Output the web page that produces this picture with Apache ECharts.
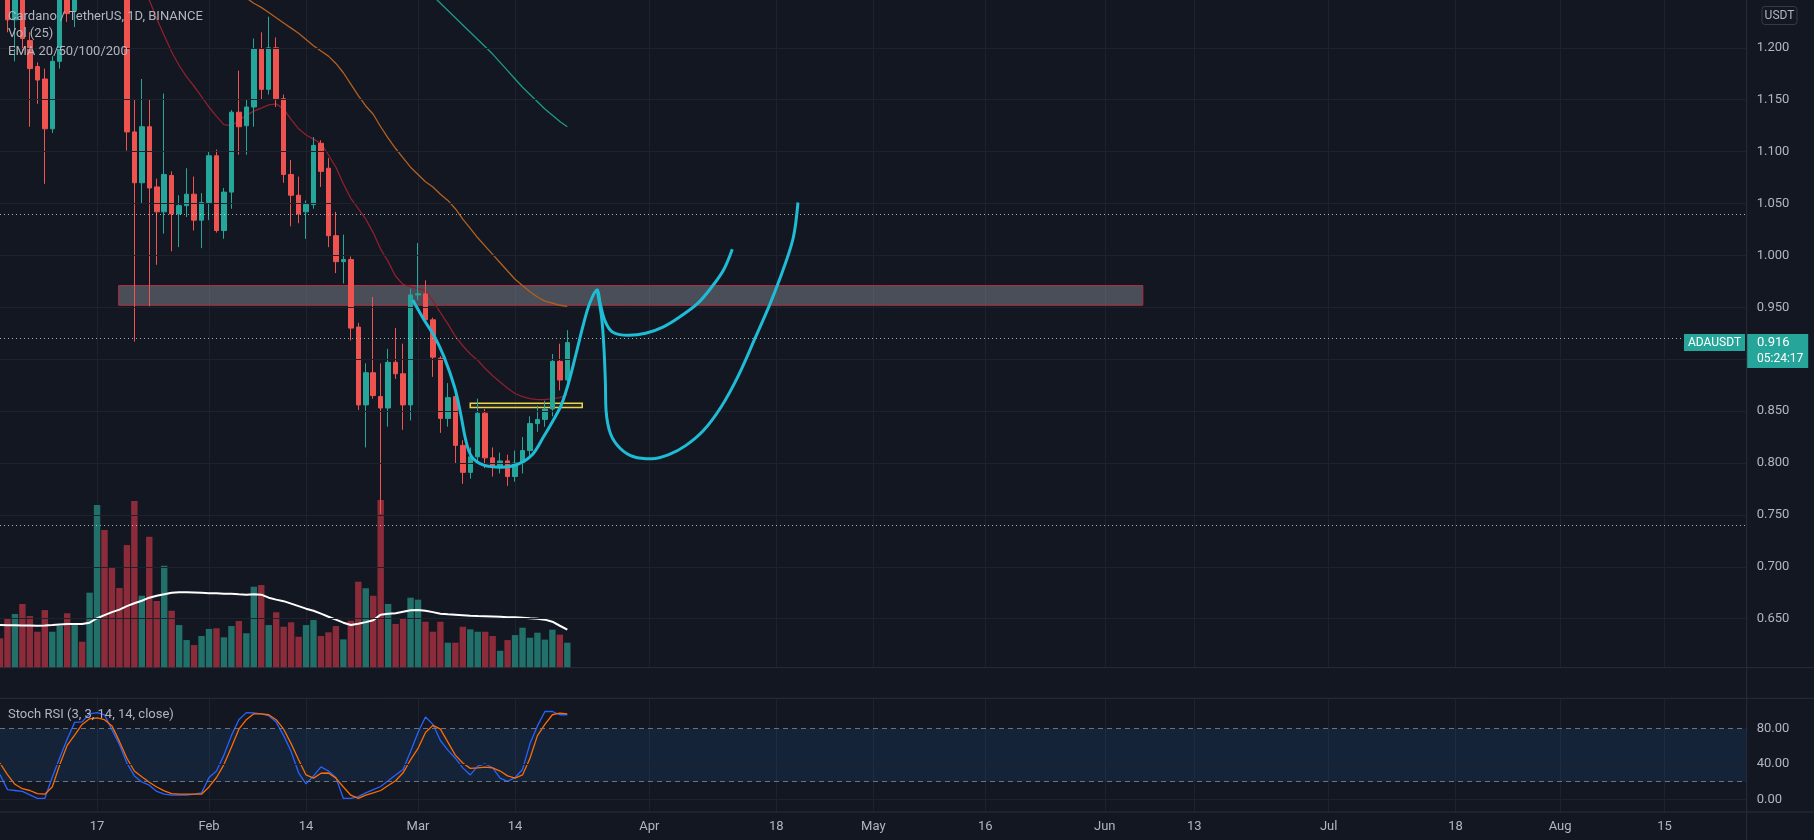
<!DOCTYPE html>
<html><head><meta charset="utf-8">
<script src="https://cdn.jsdelivr.net/npm/echarts@6/dist/echarts.min.js"></script>
<style>html,body{margin:0;padding:0;background:#131722;}#c{width:1814px;height:840px;}</style>
</head><body><div id="c"></div>
<script>
// ---------- DATA ----------
const FIRST_DAY = [2022, 0, 4];      // first visible daily bar (Jan 4, 2022)
const DAY_COUNT = 235;               // days on the time axis (Jan 4 .. Aug 25)
const TIME_TICKS = ['2022-01-17','2022-02-01','2022-02-14','2022-03-01','2022-03-14','2022-04-01','2022-04-18','2022-05-01','2022-05-16','2022-06-01','2022-06-13','2022-07-01','2022-07-18','2022-08-01','2022-08-15'];
const TICK_TEXT = ['17','Feb','14','Mar','14','Apr','18','May','16','Jun','13','Jul','18','Aug','15'];
const PRICE_TICKS = [0.65,0.70,0.75,0.80,0.85,0.90,0.95,1.00,1.05,1.10,1.15,1.20];
const RSI_TICKS = [0, 40, 80];

// daily candles [open, close, low, high], Jan 4 .. Mar 21 2022
const CANDLES = [
 [1.33,1.31,1.29,1.36],[1.31,1.227,1.215,1.33],[1.227,1.26,1.187,1.27],[1.26,1.209,1.195,1.27],[1.207,1.180,1.124,1.215],
 [1.182,1.169,1.146,1.186],[1.170,1.122,1.069,1.180],[1.122,1.187,1.118,1.192],[1.187,1.27,1.18,1.29],[1.27,1.233,1.225,1.30],
 [1.236,1.33,1.220,1.36],[1.35,1.33,1.30,1.38],[1.33,1.40,1.30,1.42],[1.40,1.48,1.35,1.55],[1.48,1.45,1.38,1.52],
 [1.45,1.42,1.36,1.50],[1.42,1.40,1.33,1.48],[1.40,1.119,1.101,1.42],[1.119,1.070,0.917,1.150],[1.070,1.124,1.050,1.170],
 [1.124,1.065,0.951,1.150],[1.066,1.042,0.991,1.074],[1.042,1.078,1.021,1.156],[1.077,1.040,1.004,1.081],[1.040,1.048,1.008,1.058],
 [1.048,1.059,1.037,1.084],[1.059,1.034,1.024,1.076],[1.034,1.051,1.007,1.060],[1.051,1.096,1.034,1.100],[1.096,1.024,1.022,1.102],
 [1.024,1.061,1.016,1.065],[1.061,1.138,1.045,1.140],[1.138,1.124,1.097,1.178],[1.125,1.143,1.097,1.150],[1.143,1.199,1.124,1.209],
 [1.199,1.160,1.150,1.215],[1.160,1.200,1.155,1.230],[1.200,1.151,1.143,1.210],[1.151,1.078,1.070,1.155],[1.078,1.058,1.028,1.092],
 [1.058,1.040,1.031,1.076],[1.042,1.049,1.016,1.053],[1.049,1.106,1.045,1.114],[1.108,1.081,1.066,1.111],[1.084,1.019,1.008,1.094],
 [1.019,0.994,0.983,1.042],[0.994,0.996,0.973,1.020],[0.996,0.930,0.918,0.999],[0.931,0.856,0.851,0.935],[0.856,0.887,0.815,0.896],
 [0.887,0.865,0.862,0.960],[0.864,0.853,0.751,0.896],[0.853,0.897,0.835,0.910],[0.897,0.886,0.881,0.930],[0.886,0.856,0.832,0.915],
 [0.856,0.962,0.841,0.968],[0.962,0.963,0.957,1.012],[0.963,0.938,0.935,0.976],[0.938,0.902,0.883,0.940],[0.901,0.843,0.829,0.903],
 [0.843,0.863,0.835,0.877],[0.864,0.817,0.800,0.866],[0.817,0.791,0.780,0.822],[0.791,0.806,0.785,0.815],[0.806,0.848,0.800,0.862],
 [0.848,0.805,0.795,0.852],[0.805,0.797,0.787,0.815],[0.797,0.802,0.790,0.810],[0.802,0.787,0.778,0.808],[0.787,0.800,0.782,0.812],
 [0.800,0.812,0.790,0.825],[0.812,0.838,0.805,0.845],[0.838,0.842,0.830,0.855],[0.842,0.852,0.835,0.860],[0.852,0.898,0.845,0.905],
 [0.898,0.880,0.870,0.915],[0.880,0.916,0.875,0.928]
];
// volume (millions ADA) and its 25-day average
const VOLUME = [212,351,387,459,372,259,415,259,300,392,307,187,540,1171,991,723,574,883,1200,518,
 943,480,734,410,307,199,163,228,279,284,219,300,336,248,583,595,307,399,295,327,
 223,307,343,228,255,300,204,338,619,572,518,1207,459,315,356,504,490,331,259,331,
 180,180,295,276,259,259,228,122,199,235,288,216,252,202,274,238,180];
const VOL_MA = [307,306,305,304,303,302,304,307,311,315,315,315,324,356,378,400,418,443,464,482,
 504,518,529,540,544,544,542,540,536,536,533,533,529,526,529,526,504,490,479,461,
 443,425,410,389,367,346,324,307,317,328,342,382,389,392,403,414,415,410,400,389,
 385,382,378,374,372,371,369,367,364,363,360,356,353,346,331,302,274];
// EMAs (only the part that is inside the visible price range)
const EMA20_START = 18;
const EMA20 = [1.29,1.268,1.246,1.228,1.212,1.196,1.183,1.172,1.163,1.153,1.143,1.134,1.126,1.125,1.130,1.135,1.139,1.142,1.145,1.146,
 1.141,1.131,1.122,1.116,1.112,1.108,1.097,1.085,1.069,1.055,1.045,1.035,1.022,1.006,0.994,0.980,0.972,0.970,0.968,0.966,
 0.956,0.945,0.934,0.922,0.913,0.905,0.899,0.891,0.884,0.878,0.872,0.867,0.864,0.862,0.861,0.861,0.862,0.863,0.866];
const EMA50_START = 32;
const EMA50 = [1.252,1.248,1.243,1.239,1.234,1.229,1.224,1.219,1.214,1.208,1.202,1.197,1.192,1.185,1.176,1.165,1.154,1.144,1.136,1.124,
 1.113,1.103,1.094,1.085,1.078,1.071,1.066,1.059,1.053,1.045,1.035,1.026,1.017,1.009,1.001,0.993,0.985,0.977,0.971,0.965,
 0.960,0.956,0.954,0.952,0.951];
const EMA100_START = 58;
const EMA100 = [1.250,1.243,1.236,1.229,1.222,1.215,1.208,1.201,1.194,1.186,1.178,1.170,1.162,1.155,1.148,1.141,1.135,1.129,1.124];
// Stoch RSI
const STOCH_K = [28,11,10,9,5,1,1,25,47,68,87,87.6,96.7,98,95.6,78.5,62,41,26.5,19.6,16,9,6,4.7,4.7,4.7,5.8,7.3,24.7,32,
 50,72,90,98,97.8,96.7,94.5,87.3,72,54,30,17.5,26.5,36.7,32,24.7,1,1,3,7.3,11,14.5,21,27.6,33.8,54,75.6,93,84.7,66.5,
 55.6,46.5,35.6,27.6,37.5,40,35.6,24,20.4,24.7,33.8,63,83,99.3,99.3,95.6,95.6];
const STOCH_D = [41,28,17,12,10,6.5,5.8,14,39,61,72.7,84.7,91,92,90,83,65.5,46.5,32,25.5,19.3,14,9.5,6.5,5.8,5.8,5.8,5.8,14,24.7,
 39.3,59,79.3,90,96.7,96.7,95.6,90,79.3,63,44.7,27.6,24,29.5,29.8,24,14,4.7,1,4.7,7.3,10,15.6,21,30,44.7,57.5,75.6,83.6,79.3,
 64.7,50,41,35,35.6,36.4,35.6,32,26.5,24,27.6,46.5,72,84.7,95.6,97.5,96.7];
const STOCH_BANDS = [20, 80];
// chart drawings: [day index from Jan 4, price]
const CUP_PATH = [[55.3,0.957],[56.8,0.938],[58.2,0.922],[59.5,0.902],[60.9,0.873],[61.7,0.848],[62.4,0.822],[63.2,0.806],[64.8,0.798],[67.1,0.796],[69.4,0.799],[71.3,0.808],[72.8,0.825],[74.1,0.841],[75.2,0.856],[76.2,0.878],[77.2,0.906],[78.1,0.932],[79.0,0.954],[80.0,0.967],
 [80.4,0.954],[81.1,0.936],[82.1,0.926],[84.2,0.923],[86.5,0.925],[88.8,0.931],[91.1,0.941],[93.5,0.954],[95.5,0.971],[97.0,0.987],[98.1,1.006]];
const BIG_CUP_PATH = [[80.0,0.967],[80.6,0.940],[80.9,0.912],[81.1,0.878],[81.2,0.850],[81.8,0.828],[83.1,0.814],[84.9,0.806],[87.3,0.804],[89.6,0.808],[91.9,0.817],[94.2,0.831],[96.6,0.854],[98.9,0.884],[101.2,0.921],[103.2,0.954],[105.1,0.990],[106.3,1.018],[106.9,1.051]];
const RESIST_BOX = [[15.9,0.971],[153.1,0.952]];
const NECK_BOX = [[63.0,0.8575],[78.0,0.8536]];
const H_LINES = [1.042, 0.744];
const LAST_PRICE = 0.916;
const COUNTDOWN = '05:24:17';

// ---------- LAYOUT ----------
const W = 1814, AXIS_X = 1746.7, GRID_RIGHT = W - AXIS_X;
const MAIN_H = 667.7, RSI_TOP = 698.3, RSI_H = 113.7;
const PRICE_MIN = 0.6028, PRICE_MAX = 1.2461;
const VOL_AXIS_MAX = 4807;
const RSI_MIN = -14.3, RSI_MAX = 114.2;
const FONT = 'Roboto, "Liberation Sans", sans-serif';
const TXT = '#b2b5be', GRIDC = '#1e222d', SEP = '#2a2e39';
const UP = '#26a69a', DOWN = '#ef5350', VOL_UP = '#22706a', VOL_DOWN = '#8c2b3a';
const CYAN = '#1fbcd6';

const DATES = [];
for (let k = 0; k < DAY_COUNT; k++) {
  DATES.push(new Date(Date.UTC(FIRST_DAY[0], FIRST_DAY[1], FIRST_DAY[2] + k)).toISOString().slice(0, 10));
}
const isTick = (idx, val) => TIME_TICKS.indexOf(val) >= 0;
const pad = (start, arr) => new Array(start).fill(null).concat(arr);

const chart = echarts.init(document.getElementById('c'), null, {width: W, height: 840});
const option = {
  backgroundColor: '#131722',
  animation: false,
  grid: [
    {left: 0, right: GRID_RIGHT, top: 0, height: MAIN_H},
    {left: 0, right: GRID_RIGHT, top: RSI_TOP, height: RSI_H}
  ],
  xAxis: [
    {type: 'category', gridIndex: 0, data: DATES, boundaryGap: false,
     axisLine: {show: false}, axisTick: {show: false}, axisLabel: {show: false},
     splitLine: {show: true, interval: isTick, lineStyle: {color: GRIDC}}},
    {type: 'value', gridIndex: 0, min: 0, max: DAY_COUNT - 1, show: false},
    {type: 'category', gridIndex: 1, data: DATES, boundaryGap: false,
     axisLine: {show: false}, axisTick: {show: false},
     axisLabel: {show: true, interval: isTick, formatter: v => TICK_TEXT[TIME_TICKS.indexOf(v)],
                 color: TXT, fontSize: 13, fontFamily: FONT, margin: 8},
     splitLine: {show: true, interval: isTick, lineStyle: {color: GRIDC}}}
  ],
  yAxis: [
    {type: 'value', gridIndex: 0, position: 'right', min: PRICE_MIN, max: PRICE_MAX,
     axisLine: {show: false}, axisTick: {show: false},
     axisLabel: {customValues: PRICE_TICKS, formatter: v => v.toFixed(3), color: TXT, fontSize: 13, fontFamily: FONT, margin: 10},
     splitLine: {show: false}},
    {type: 'value', gridIndex: 0, min: 0, max: VOL_AXIS_MAX, show: false},
    {type: 'value', gridIndex: 1, position: 'right', min: RSI_MIN, max: RSI_MAX,
     axisLine: {show: false}, axisTick: {show: false}, splitLine: {show: false},
     axisLabel: {customValues: RSI_TICKS, formatter: v => v.toFixed(2), color: TXT, fontSize: 13, fontFamily: FONT, margin: 10}}
  ],
  series: [
    {type: 'line', xAxisIndex: 0, yAxisIndex: 0, data: [], silent: true, z: 0,
     markLine: {silent: true, symbol: 'none', label: {show: false},
       lineStyle: {color: GRIDC, type: 'solid', width: 1},
       data: PRICE_TICKS.map(p => ({yAxis: p}))}},
    {type: 'bar', name: 'Vol', xAxisIndex: 0, yAxisIndex: 1, barWidth: 6.4, z: 1,
     data: VOLUME.map((v, k) => ({value: v, itemStyle: {color: CANDLES[k][1] >= CANDLES[k][0] ? VOL_UP : VOL_DOWN}}))},
    {type: 'line', name: 'Vol MA', xAxisIndex: 0, yAxisIndex: 1, data: VOL_MA, symbol: 'none', z: 2,
     lineStyle: {color: '#ffffff', width: 2}},
    {type: 'line', name: 'EMA20', xAxisIndex: 0, yAxisIndex: 0, data: pad(EMA20_START, EMA20), symbol: 'none', z: 3,
     lineStyle: {color: '#8e1f2c', width: 1.3}},
    {type: 'line', name: 'EMA50', xAxisIndex: 0, yAxisIndex: 0, data: pad(EMA50_START, EMA50), symbol: 'none', z: 3,
     lineStyle: {color: '#b4601f', width: 1.3}},
    {type: 'line', name: 'EMA100', xAxisIndex: 0, yAxisIndex: 0, data: pad(EMA100_START, EMA100), symbol: 'none', z: 3,
     lineStyle: {color: '#1a9a8a', width: 1.3}},
    {type: 'candlestick', name: 'ADAUSDT', xAxisIndex: 0, yAxisIndex: 0, barWidth: 5, z: 4,
     data: CANDLES.map(c => [c[0], c[1], c[2], c[3]]),
     itemStyle: {color: UP, color0: DOWN, borderColor: UP, borderColor0: DOWN, borderWidth: 1},
     markLine: {silent: true, symbol: 'none', label: {show: false},
       data: H_LINES.map(p => ({yAxis: p, lineStyle: {color: 'rgba(230,230,235,0.75)', type: [1, 3], width: 1}}))
         .concat([{yAxis: LAST_PRICE, lineStyle: {color: 'rgba(200,220,220,0.8)', type: [1, 3], width: 1}}])}},
    {type: 'line', name: 'cup', xAxisIndex: 1, yAxisIndex: 0, data: CUP_PATH, symbol: 'none', smooth: 0.35, z: 6,
     lineStyle: {color: CYAN, width: 3},
     markArea: {silent: true, label: {show: false},
       data: [
         [{xAxis: RESIST_BOX[0][0], yAxis: RESIST_BOX[0][1], itemStyle: {color: 'rgba(120,123,134,0.55)', borderColor: '#b0303f', borderWidth: 1}},
          {xAxis: RESIST_BOX[1][0], yAxis: RESIST_BOX[1][1]}],
         [{xAxis: NECK_BOX[0][0], yAxis: NECK_BOX[0][1], itemStyle: {color: 'rgba(255,235,59,0.08)', borderColor: '#e8d44d', borderWidth: 1.5}},
          {xAxis: NECK_BOX[1][0], yAxis: NECK_BOX[1][1]}]
       ]}},
    {type: 'line', name: 'big cup', xAxisIndex: 1, yAxisIndex: 0, data: BIG_CUP_PATH, symbol: 'none', smooth: 0.35, z: 6,
     lineStyle: {color: CYAN, width: 3}},
    {type: 'line', name: 'K', xAxisIndex: 2, yAxisIndex: 2, data: STOCH_K, symbol: 'none', z: 3,
     lineStyle: {color: '#2962ff', width: 1.3},
     markArea: {silent: true, label: {show: false},
       data: [[{yAxis: STOCH_BANDS[0], itemStyle: {color: 'rgba(33,150,243,0.1)'}}, {yAxis: STOCH_BANDS[1]}]]},
     markLine: {silent: true, symbol: 'none', label: {show: false},
       data: [{yAxis: 40, lineStyle: {color: GRIDC, type: 'solid', width: 1}},
              {yAxis: 0, lineStyle: {color: GRIDC, type: 'solid', width: 1}},
              {yAxis: STOCH_BANDS[1], lineStyle: {color: 'rgba(120,123,134,0.9)', type: [5, 4], width: 1}},
              {yAxis: STOCH_BANDS[0], lineStyle: {color: 'rgba(120,123,134,0.9)', type: [5, 4], width: 1}}]}},
    {type: 'line', name: 'D', xAxisIndex: 2, yAxisIndex: 2, data: STOCH_D, symbol: 'none', z: 3,
     lineStyle: {color: '#ff6d00', width: 1.3}}
  ]
};
chart.setOption(option);

const yLast = chart.convertToPixel({yAxisIndex: 0}, LAST_PRICE);
const Z = 100;
chart.setOption({graphic: [
  {type: 'line', z: Z, shape: {x1: 0, y1: MAIN_H, x2: W, y2: MAIN_H}, style: {stroke: SEP, lineWidth: 1}, silent: true},
  {type: 'line', z: Z, shape: {x1: 0, y1: RSI_TOP, x2: W, y2: RSI_TOP}, style: {stroke: SEP, lineWidth: 1}, silent: true},
  {type: 'line', z: Z, shape: {x1: 0, y1: RSI_TOP + RSI_H, x2: W, y2: RSI_TOP + RSI_H}, style: {stroke: SEP, lineWidth: 1}, silent: true},
  {type: 'line', z: Z, shape: {x1: AXIS_X, y1: 0, x2: AXIS_X, y2: 840}, style: {stroke: SEP, lineWidth: 1}, silent: true},
  {type: 'text', z: Z, x: 8, y: 17, style: {text: 'Cardano / TetherUS, 1D, BINANCE', fill: TXT, font: '13px ' + FONT, verticalAlign: 'middle'}},
  {type: 'text', z: Z, x: 8, y: 34, style: {text: 'Vol (25)', fill: TXT, font: '13px ' + FONT, verticalAlign: 'middle'}},
  {type: 'text', z: Z, x: 8, y: 51.5, style: {text: 'EMA 20/50/100/200', fill: TXT, font: '13px ' + FONT, verticalAlign: 'middle'}},
  {type: 'text', z: Z, x: 8, y: 715, style: {text: 'Stoch RSI (3, 3, 14, 14, close)', fill: TXT, font: '13px ' + FONT, verticalAlign: 'middle'}},
  {type: 'rect', z: Z, shape: {x: 1762, y: 6.5, width: 35, height: 18, r: 3}, style: {fill: '#131722', stroke: '#363a45', lineWidth: 1}},
  {type: 'text', z: Z + 1, x: 1779.5, y: 15.5, style: {text: 'USDT', fill: TXT, font: '12px ' + FONT, align: 'center', verticalAlign: 'middle'}},
  {type: 'rect', z: Z, shape: {x: 1684, y: yLast - 8.5, width: 61, height: 17}, style: {fill: UP}},
  {type: 'text', z: Z + 1, x: 1714.5, y: yLast, style: {text: 'ADAUSDT', fill: '#ffffff', font: '12px ' + FONT, align: 'center', verticalAlign: 'middle'}},
  {type: 'rect', z: Z, shape: {x: AXIS_X + 0.5, y: yLast - 8.5, width: 61, height: 34}, style: {fill: UP}},
  {type: 'text', z: Z + 1, x: 1757, y: yLast, style: {text: LAST_PRICE.toFixed(3), fill: '#ffffff', font: '13px ' + FONT, verticalAlign: 'middle'}},
  {type: 'text', z: Z + 1, x: 1757, y: yLast + 16, style: {text: COUNTDOWN, fill: '#ffffff', font: '12px ' + FONT, verticalAlign: 'middle'}}
]});
</script>
</body></html>
